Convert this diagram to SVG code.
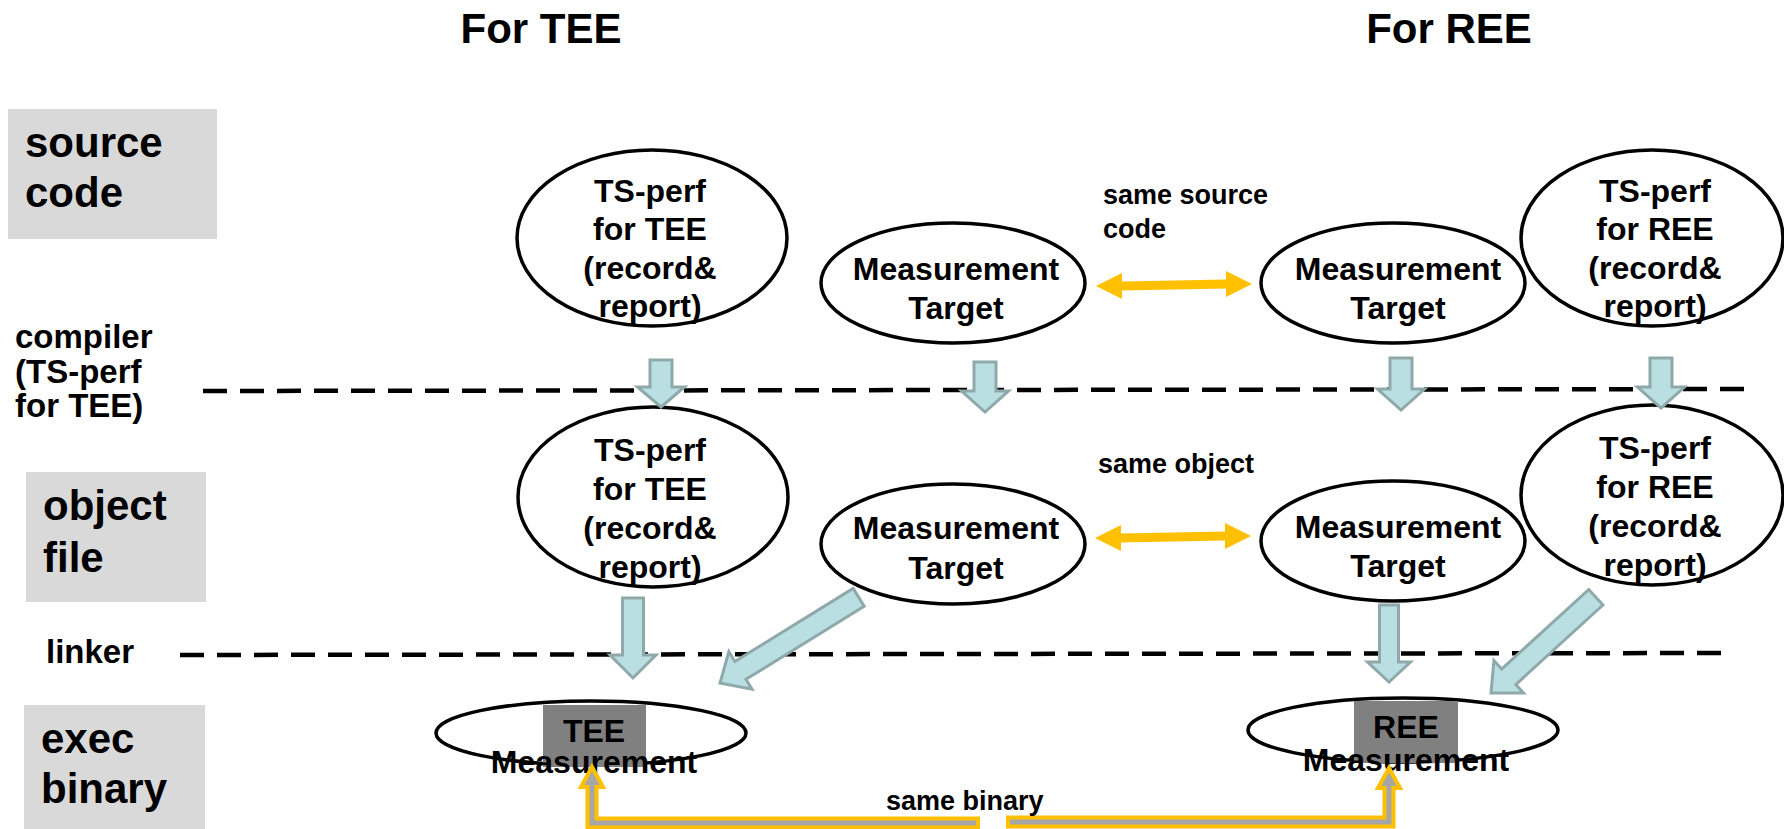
<svg xmlns="http://www.w3.org/2000/svg" width="1784" height="829" viewBox="0 0 1784 829">
  <defs>
    <style>
      text { font-family: "Liberation Sans", Arial, sans-serif; font-weight: bold; fill: #000; }
      .title { font-size: 42px; text-anchor: middle; }
      .stage { font-size: 42px; }
      .step { font-size: 33px; }
      .note { font-size: 27px; }
      .node { font-size: 32px; text-anchor: middle; }
      .box { fill: #D9D9D9; }
      .ell { fill: #fff; stroke: #000; stroke-width: 3.5; }
      .dash { stroke: #000; stroke-width: 4.5; stroke-dasharray: 24 13; fill: none; }
      .flow { fill: #B9DFE3; stroke: #8FA9AA; stroke-width: 3; stroke-linejoin: miter; }
      .same { fill: #FFC000; }
      .bin { fill: #A6A6A6; stroke: #FFC000; stroke-width: 4; stroke-linejoin: miter; }
      .chip { fill: #808080; }
    </style>
  </defs>

  <!-- column titles -->
  <text class="title" x="541" y="43">For TEE</text>
  <text class="title" x="1449" y="43">For REE</text>

  <!-- stage labels -->
  <g id="stage-source">
    <rect class="box" x="8" y="109" width="209" height="130"/>
    <text class="stage" x="25" y="157">source</text>
    <text class="stage" x="25" y="207">code</text>
  </g>
  <g id="step-compiler">
    <text class="step" x="15" y="348">compiler</text>
    <text class="step" x="15" y="383">(TS-perf</text>
    <text class="step" x="15" y="417">for TEE)</text>
  </g>
  <g id="stage-object">
    <rect class="box" x="26" y="472" width="180" height="130"/>
    <text class="stage" x="43" y="520">object</text>
    <text class="stage" x="43" y="572">file</text>
  </g>
  <g id="step-linker">
    <text class="step" x="46" y="663">linker</text>
  </g>
  <g id="stage-exec">
    <rect class="box" x="24" y="705" width="181" height="124"/>
    <text class="stage" x="41" y="753">exec</text>
    <text class="stage" x="41" y="803">binary</text>
  </g>

  <!-- phase separators -->
  <g id="separators">
    <line class="dash" x1="203" y1="391" x2="1754" y2="389"/>
    <line class="dash" x1="180" y1="655" x2="1732" y2="653"/>
  </g>

  <!-- source code row -->
  <g id="src-tsperf-tee">
    <ellipse class="ell" cx="652" cy="238" rx="135" ry="88"/>
    <text class="node" x="650" y="202">TS-perf</text>
    <text class="node" x="650" y="240">for TEE</text>
    <text class="node" x="650" y="279">(record&amp;</text>
    <text class="node" x="650" y="317">report)</text>
  </g>
  <g id="src-target-tee">
    <ellipse class="ell" cx="953" cy="283" rx="132" ry="60"/>
    <text class="node" x="956" y="280">Measurement</text>
    <text class="node" x="956" y="319">Target</text>
  </g>
  <g id="src-target-ree">
    <ellipse class="ell" cx="1393" cy="283" rx="132" ry="60"/>
    <text class="node" x="1398" y="280">Measurement</text>
    <text class="node" x="1398" y="319">Target</text>
  </g>
  <g id="src-tsperf-ree">
    <ellipse class="ell" cx="1652" cy="238" rx="131" ry="88"/>
    <text class="node" x="1655" y="202">TS-perf</text>
    <text class="node" x="1655" y="240">for REE</text>
    <text class="node" x="1655" y="279">(record&amp;</text>
    <text class="node" x="1655" y="317">report)</text>
  </g>

  <!-- object file row -->
  <g id="obj-tsperf-tee">
    <ellipse class="ell" cx="653" cy="497" rx="135" ry="90"/>
    <text class="node" x="650" y="461">TS-perf</text>
    <text class="node" x="650" y="500">for TEE</text>
    <text class="node" x="650" y="539">(record&amp;</text>
    <text class="node" x="650" y="578">report)</text>
  </g>
  <g id="obj-target-tee">
    <ellipse class="ell" cx="953" cy="544" rx="132" ry="60"/>
    <text class="node" x="956" y="539">Measurement</text>
    <text class="node" x="956" y="579">Target</text>
  </g>
  <g id="obj-target-ree">
    <ellipse class="ell" cx="1393" cy="541" rx="132" ry="60"/>
    <text class="node" x="1398" y="538">Measurement</text>
    <text class="node" x="1398" y="577">Target</text>
  </g>
  <g id="obj-tsperf-ree">
    <ellipse class="ell" cx="1652" cy="495" rx="131" ry="90"/>
    <text class="node" x="1655" y="459">TS-perf</text>
    <text class="node" x="1655" y="498">for REE</text>
    <text class="node" x="1655" y="537">(record&amp;</text>
    <text class="node" x="1655" y="576">report)</text>
  </g>

  <!-- executable row -->
  <g id="exec-tee">
    <ellipse class="ell" cx="591" cy="733" rx="155" ry="32"/>
    <rect class="chip" x="543" y="705" width="103" height="62"/>
    <text class="node" x="594" y="742">TEE</text>
    <text class="node" x="594" y="773">Measurement</text>
  </g>
  <g id="exec-ree">
    <ellipse class="ell" cx="1403" cy="730" rx="155" ry="32"/>
    <rect class="chip" x="1354" y="701" width="104" height="62"/>
    <text class="node" x="1406" y="738">REE</text>
    <text class="node" x="1406" y="771">Measurement</text>
  </g>

  <!-- connectors -->
  <g id="connectors">
    <!-- compile steps -->
    <polygon class="flow" transform="translate(661,407) rotate(90)" points="-47,-11 -20,-11 -20,-23.5 0,0 -20,23.5 -20,11 -47,11"/>
    <polygon class="flow" transform="translate(985,412) rotate(90)" points="-50,-11 -21,-11 -21,-23.5 0,0 -21,23.5 -21,11 -50,11"/>
    <polygon class="flow" transform="translate(1401,410) rotate(90)" points="-52,-11 -21,-11 -21,-23.5 0,0 -21,23.5 -21,11 -52,11"/>
    <polygon class="flow" transform="translate(1661,408) rotate(90)" points="-50,-11 -21,-11 -21,-23.5 0,0 -21,23.5 -21,11 -50,11"/>
    <!-- link steps -->
    <polygon class="flow" transform="translate(633,678) rotate(90)" points="-80,-10.5 -23,-10.5 -23,-23 0,0 -23,23 -23,10.5 -80,10.5"/>
    <polygon class="flow" transform="translate(720,683) rotate(148.3)" points="-163,-10.5 -24,-10.5 -24,-22 0,0 -24,22 -24,10.5 -163,10.5"/>
    <polygon class="flow" transform="translate(1389,682) rotate(90)" points="-77,-9.5 -20,-9.5 -20,-21.5 0,0 -20,21.5 -20,9.5 -77,9.5"/>
    <polygon class="flow" transform="translate(1491,693) rotate(137.6)" points="-142,-10.5 -24,-10.5 -24,-22 0,0 -24,22 -24,10.5 -142,10.5"/>

    <!-- same source code -->
    <polygon class="same" points="1096,286 1122,273 1122,281.5 1226,279.5 1226,271 1252,284 1226,297 1226,288.5 1122,290.5 1122,299"/>
    <text class="note" x="1103" y="204">same source</text>
    <text class="note" x="1103" y="238">code</text>

    <!-- same object -->
    <polygon class="same" points="1095,538 1121,525 1121,533.5 1225,531.5 1225,523 1251,536 1225,549 1225,540.5 1121,542.5 1121,551"/>
    <text class="note" x="1098" y="473">same object</text>

    <!-- same binary -->
    <polygon class="bin" points="978,818.5 596.5,818.5 596.5,787 603,787 592,767 581,787 587.5,787 587.5,827.5 978,827.5"/>
    <polygon class="bin" points="1008,817.5 1384.5,817.5 1384.5,788 1378,788 1389,768 1400,788 1393.5,788 1393.5,826.5 1008,826.5"/>
    <text class="note" x="886" y="810">same binary</text>
  </g>
</svg>
